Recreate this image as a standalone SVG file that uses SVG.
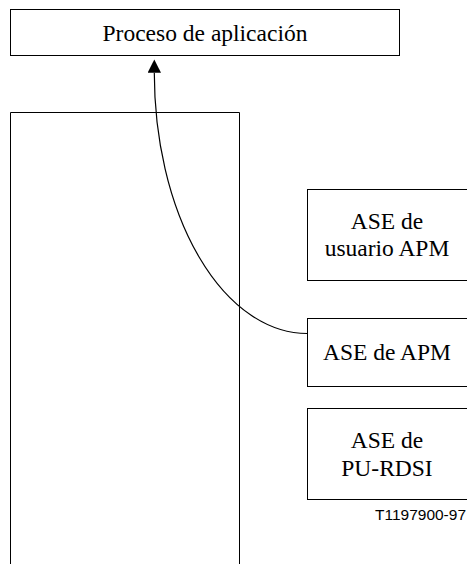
<svg xmlns="http://www.w3.org/2000/svg" width="467" height="564" viewBox="0 0 467 564">
<style>
.box{fill:#fff;stroke:#000;stroke-width:1}
.t{font-family:"Liberation Serif","Times New Roman",serif;font-size:23.5px;fill:#000;text-anchor:middle}
.c{fill:none;stroke:#000;stroke-width:1.2}
.lbl{font-family:"Liberation Sans",Arial,sans-serif;font-size:15px;fill:#000}
</style>
<defs>
<marker id="ah" markerUnits="userSpaceOnUse" markerWidth="14" markerHeight="14" refX="0" refY="6.7" orient="auto">
<path d="M0,0 L13.3,6.7 L0,13.4 z" fill="#000"/>
</marker>
</defs>
<rect width="467" height="564" fill="#fff"/>
<g id="proceso">
<rect class="box" x="10.5" y="9.5" width="389" height="46"/>
<text class="t" x="205" y="41">Proceso de aplicación</text>
</g>
<g id="capa">
<path d="M10.5,564 V112.5 H239.5 V564" fill="none" stroke="#000" stroke-width="1"/>
</g>
<g id="ase-usuario">
<rect class="box" x="307.5" y="189.5" width="162" height="91"/>
<text class="t" x="387" y="229">ASE de</text>
<text class="t" x="387" y="256">usuario APM</text>
</g>
<g id="ase-apm">
<rect class="box" x="307.5" y="318.5" width="162" height="68"/>
<text class="t" x="387" y="360">ASE de APM</text>
</g>
<g id="ase-pu">
<rect class="box" x="307.5" y="408.5" width="162" height="91"/>
<text class="t" x="387" y="448">ASE de</text>
<text class="t" x="387" y="476">PU-RDSI</text>
</g>
<g id="connectors">
<path class="c" d="M307.5,333.5 A153,261 0 0 1 154.3,72.7" marker-end="url(#ah)"/>
</g>
<text class="lbl" x="375" y="520" textLength="91" lengthAdjust="spacingAndGlyphs">T1197900-97</text>
</svg>
